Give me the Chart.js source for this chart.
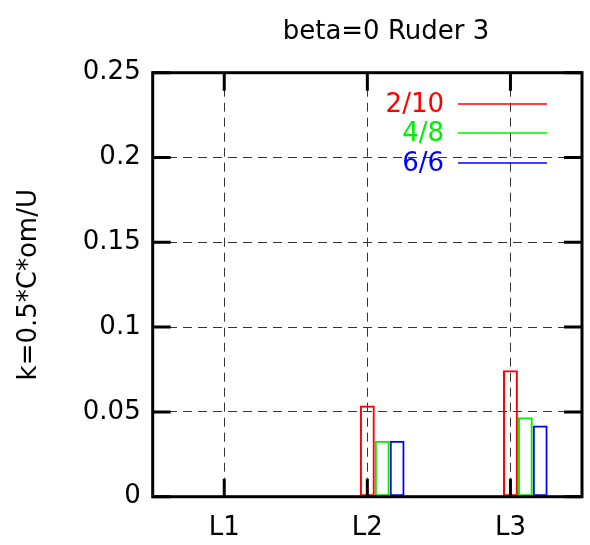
<!DOCTYPE html>
<html>
<head>
<meta charset="utf-8">
<script src="https://cdn.jsdelivr.net/npm/chart.js@4"></script>
<style>
html,body{margin:0;padding:0;background:#fff;}
#wrap{width:590px;height:545px;}
</style>
</head>
<body>
<div id="wrap"><canvas id="c" width="590" height="545"></canvas></div>
<script>
const categories = ['L1', 'L2', 'L3'];
const series210 = [0, 0.0537, 0.0746];
const series48  = [0, 0.033, 0.0468];
const series66  = [0, 0.033, 0.042];
const seriesNames = ['2/10', '4/8', '6/6'];
const seriesColors = ['#ff0000', '#00ee00', '#0000ff'];
const yTickLabels = ['0', '0.05', '0.1', '0.15', '0.2', '0.25'];
const titleText = 'beta=0 Ruder 3';
const yTitle = 'k=0.5*C*om/U';

const FONT = 'DejaVu Sans';
const empty = categories.map(() => null);

function barSet(label, data, color) {
  return {
    label, data,
    backgroundColor: 'rgba(0,0,0,0)',
    borderColor: color,
    borderWidth: 2,
    borderSkipped: false,
    categoryPercentage: 0.52,
    barPercentage: 1.0
  };
}

const framePlugin = {
  id: 'frame',
  afterDatasetsDraw(chart) {
    const ctx = chart.ctx;
    const a = chart.chartArea;
    const xs = chart.scales.x, ys = chart.scales.y;
    ctx.save();
    ctx.strokeStyle = '#000';
    ctx.lineWidth = 3;
    const T = 18;
    ctx.beginPath();
    ys.ticks.forEach((t, i) => {
      const py = ys.getPixelForTick(i);
      ctx.moveTo(a.left, py); ctx.lineTo(a.left + T, py);
      ctx.moveTo(a.right, py); ctx.lineTo(a.right - T, py);
    });
    xs.ticks.forEach((t, i) => {
      const px = xs.getPixelForTick(i);
      ctx.moveTo(px, a.bottom); ctx.lineTo(px, a.bottom - T);
      ctx.moveTo(px, a.top); ctx.lineTo(px, a.top + T);
    });
    ctx.stroke();
    ctx.strokeRect(a.left, a.top, a.right - a.left, a.bottom - a.top);

    // title
    ctx.fillStyle = '#000';
    ctx.font = '26px "' + FONT + '"';
    ctx.textAlign = 'center';
    ctx.textBaseline = 'alphabetic';
    ctx.fillText(titleText, 386, 38.5);

    // key
    const keyY = [104, 133, 163];
    ctx.textAlign = 'right';
    ctx.textBaseline = 'middle';
    ctx.lineWidth = 1.5;
    seriesNames.forEach((n, i) => {
      ctx.fillStyle = seriesColors[i];
      ctx.fillText(n, 444, keyY[i] + 1);
      ctx.strokeStyle = seriesColors[i];
      ctx.beginPath();
      ctx.moveTo(458, keyY[i]);
      ctx.lineTo(547, keyY[i]);
      ctx.stroke();
    });
    ctx.restore();
  }
};

new Chart(document.getElementById('c'), {
  type: 'bar',
  data: {
    labels: categories,
    datasets: [
      barSet('', empty, 'rgba(0,0,0,0)'),
      barSet('', empty, 'rgba(0,0,0,0)'),
      barSet(seriesNames[0], series210, seriesColors[0]),
      barSet(seriesNames[1], series48, seriesColors[1]),
      barSet(seriesNames[2], series66, seriesColors[2])
    ]
  },
  options: {
    responsive: false,
    animation: false,
    layout: { padding: { left: 0, right: 8, top: 72.7, bottom: 0 } },
    plugins: { legend: { display: false }, tooltip: { enabled: false }, title: { display: false } },
    scales: {
      x: {
        grid: { offset: false, color: '#333', lineWidth: 1, drawTicks: false },
        border: { display: false, dash: [9, 6] },
        ticks: { color: '#000', font: { family: FONT, size: 26 }, padding: 16, maxRotation: 0 },
        afterFit(s) { s.height = 48.3; }
      },
      y: {
        min: 0, max: 0.25,
        grid: { color: '#333', lineWidth: 1, drawTicks: false },
        border: { display: false, dash: [9, 6] },
        ticks: {
          stepSize: 0.05,
          color: '#000',
          font: { family: FONT, size: 26 },
          padding: 12,
          callback: (v, i) => yTickLabels[i]
        },
        title: { display: true, text: yTitle, color: '#000', font: { family: FONT, size: 26 }, padding: { top: 14, bottom: 0 } },
        afterFit(s) { s.width = 152.7; }
      }
    }
  },
  plugins: [framePlugin]
});
</script>
</body>
</html>
